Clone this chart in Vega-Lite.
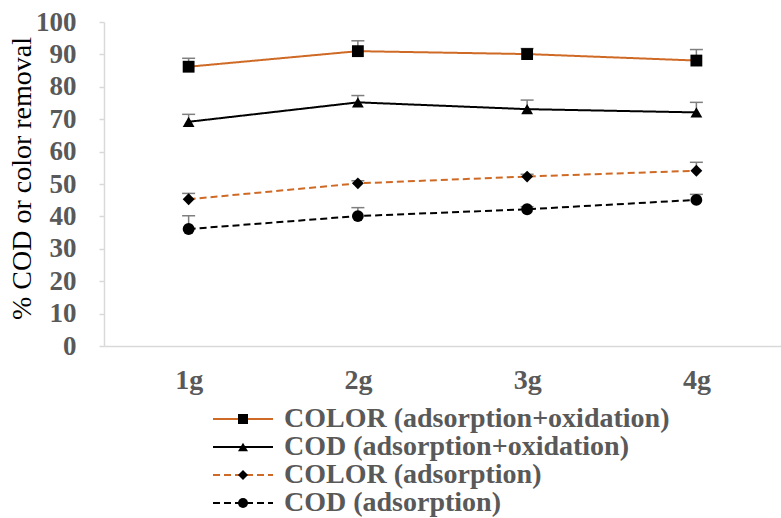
{
  "$schema": "https://vega.github.io/schema/vega-lite/v6.json",
  "width": 677,
  "height": 324,
  "autosize": {"type": "none"},
  "padding": {"left": 104, "top": 22, "right": 0, "bottom": 172},
  "background": "white",
  "config": {
    "view": {"stroke": null},
    "font": "'Liberation Serif', 'Times New Roman', serif",
    "axisY": {"labelOverlap": false, "tickCount": 11, "labelFlush": false}
  },
  "data": {
    "values": [
      {"g": "1g", "series": "COLOR (adsorption+oxidation)", "marker": "m1", "value": 86.2, "upper": 88.8},
      {"g": "2g", "series": "COLOR (adsorption+oxidation)", "marker": "m1", "value": 91.0, "upper": 94.2},
      {"g": "3g", "series": "COLOR (adsorption+oxidation)", "marker": "m1", "value": 90.1, "upper": 91.8},
      {"g": "4g", "series": "COLOR (adsorption+oxidation)", "marker": "m1", "value": 88.1, "upper": 91.5},
      {"g": "1g", "series": "COD (adsorption+oxidation)", "marker": "m2", "value": 69.2, "upper": 71.5},
      {"g": "2g", "series": "COD (adsorption+oxidation)", "marker": "m2", "value": 75.2, "upper": 77.3},
      {"g": "3g", "series": "COD (adsorption+oxidation)", "marker": "m2", "value": 73.1, "upper": 75.9},
      {"g": "4g", "series": "COD (adsorption+oxidation)", "marker": "m2", "value": 72.1, "upper": 75.2},
      {"g": "1g", "series": "COLOR (adsorption)", "marker": "m3", "value": 45.3, "upper": 47.1},
      {"g": "2g", "series": "COLOR (adsorption)", "marker": "m3", "value": 50.2, "upper": 51.0},
      {"g": "3g", "series": "COLOR (adsorption)", "marker": "m3", "value": 52.3, "upper": 53.0},
      {"g": "4g", "series": "COLOR (adsorption)", "marker": "m3", "value": 54.1, "upper": 56.7},
      {"g": "1g", "series": "COD (adsorption)", "marker": "m4", "value": 36.1, "upper": 40.2},
      {"g": "2g", "series": "COD (adsorption)", "marker": "m4", "value": 40.1, "upper": 42.7},
      {"g": "3g", "series": "COD (adsorption)", "marker": "m4", "value": 42.2, "upper": 43.0},
      {"g": "4g", "series": "COD (adsorption)", "marker": "m4", "value": 45.1, "upper": 46.8}
    ]
  },
  "encoding": {
    "x": {
      "field": "g",
      "type": "ordinal",
      "sort": ["1g", "2g", "3g", "4g"],
      "scale": {"type": "point", "padding": 0.5},
      "axis": {
        "title": null,
        "domainColor": "#d9d9d9",
        "domainWidth": 1.5,
        "ticks": false,
        "labelAngle": 0,
        "labelFontWeight": "bold",
        "labelFontSize": 28,
        "labelColor": "#595959",
        "labelBaseline": "alphabetic",
        "labelPadding": 42
      }
    }
  },
  "layer": [
    {
      "mark": {"type": "rule", "color": "#7f7f7f", "strokeWidth": 1.5},
      "encoding": {
        "y": {
          "field": "value",
          "type": "quantitative",
          "scale": {"domain": [0, 100], "nice": false},
          "axis": {
            "title": "% COD or color removal",
            "values": [0, 10, 20, 30, 40, 50, 60, 70, 80, 90, 100],
            "labelOverlap": false,
            "grid": false,
            "domainColor": "#d9d9d9",
            "domainWidth": 1.5,
            "tickColor": "#d9d9d9",
            "tickWidth": 1.5,
            "tickSize": 5,
            "labelPadding": 23,
            "labelFontWeight": "bold",
            "labelFontSize": 27,
            "labelColor": "#595959",
            "titleFontWeight": "normal",
            "titleFontSize": 28,
            "titleColor": "black",
            "titleAngle": 270,
            "titleBaseline": "middle",
            "titleAlign": "center",
            "titleX": -82,
            "titleY": 156
          }
        },
        "y2": {"field": "upper"}
      }
    },
    {
      "mark": {"type": "tick", "color": "#7f7f7f", "size": 13, "thickness": 1.5, "opacity": 1},
      "encoding": {
        "y": {"field": "upper", "type": "quantitative"}
      }
    },
    {
      "mark": {"type": "line", "strokeWidth": 2},
      "encoding": {
        "y": {"field": "value", "type": "quantitative"},
        "color": {
          "field": "series",
          "type": "nominal",
          "scale": {
            "domain": ["COLOR (adsorption+oxidation)", "COD (adsorption+oxidation)", "COLOR (adsorption)", "COD (adsorption)"],
            "range": ["#CF6A26", "#000000", "#CF6A26", "#000000"]
          },
          "legend": {
            "title": null,
            "orient": "none",
            "legendX": 125,
            "legendY": 383,
            "padding": 0,
            "symbolType": "M-6,0L6,0",
            "symbolSize": 100,
            "symbolStrokeWidth": 2,
            "labelFontWeight": "bold",
            "labelFontSize": 28,
            "labelColor": "#595959",
            "labelOffset": 27,
            "labelLimit": 600,
            "rowPadding": 0
          }
        },
        "strokeDash": {
          "field": "series",
          "type": "nominal",
          "scale": {
            "domain": ["COLOR (adsorption+oxidation)", "COD (adsorption+oxidation)", "COLOR (adsorption)", "COD (adsorption)"],
            "range": [[1, 0], [1, 0], [7, 4], [7, 4]]
          }
        }
      }
    },
    {
      "mark": {"type": "point", "filled": true, "color": "black", "opacity": 1, "size": 140},
      "encoding": {
        "y": {"field": "value", "type": "quantitative"},
        "shape": {
          "field": "marker",
          "type": "nominal",
          "scale": {"domain": ["m1", "m2", "m3", "m4"], "range": ["square", "triangle-up", "diamond", "circle"]},
          "legend": {
            "title": null,
            "orient": "none",
            "legendX": 125,
            "legendY": 383,
            "padding": 0,
            "symbolSize": 100,
            "symbolFillColor": "black",
            "symbolStrokeColor": "black",
            "symbolStrokeWidth": 0,
            "symbolOpacity": 1,
            "labelExpr": "''",
            "labelFontWeight": "bold",
            "labelFontSize": 28,
            "labelOffset": 27,
            "rowPadding": 0
          }
        }
      }
    }
  ]
}
